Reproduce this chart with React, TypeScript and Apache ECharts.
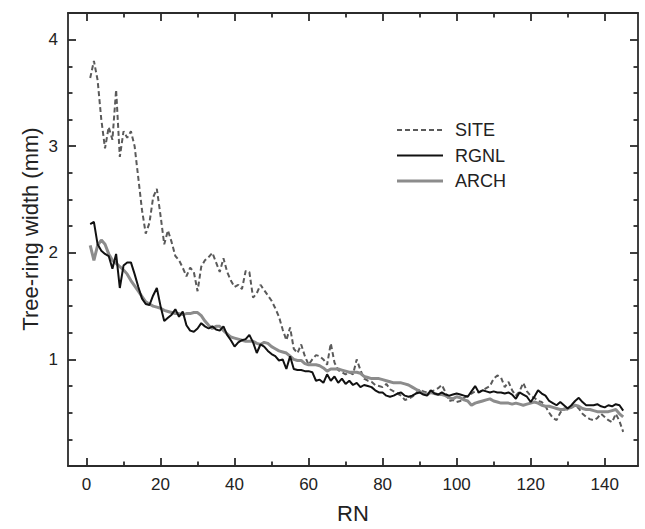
import React, { useEffect, useRef } from "react";
import * as echarts from "echarts";

const SITE = [
  3.64, 3.80, 3.62, 3.25, 2.98, 3.18, 3.06, 3.53, 2.90, 3.14,
  3.08, 3.14, 3.00, 2.70, 2.40, 2.18, 2.28, 2.52, 2.60, 2.35,
  2.08, 2.21, 2.10, 1.97, 1.93, 1.86, 1.78, 1.86, 1.82, 1.64,
  1.87, 1.93, 1.96, 2.00, 1.91, 1.82, 1.95, 1.82, 1.74, 1.68,
  1.70, 1.66, 1.83, 1.82, 1.58, 1.62, 1.70, 1.65, 1.60, 1.55,
  1.48, 1.40, 1.28, 1.18, 1.30, 1.10, 1.06, 1.14, 1.03, 0.95,
  1.00, 1.04, 1.03, 1.00, 0.95, 1.15, 0.97, 0.90, 0.88, 0.86,
  0.88, 0.86, 1.00, 0.90, 0.82, 0.80, 0.79, 0.76, 0.75, 0.74,
  0.77, 0.72, 0.70, 0.68, 0.66, 0.62, 0.63, 0.65, 0.68, 0.72,
  0.70, 0.69, 0.70, 0.71, 0.73, 0.76, 0.69, 0.61, 0.62, 0.60,
  0.61, 0.64, 0.66, 0.68, 0.70, 0.69, 0.71, 0.73, 0.75, 0.82,
  0.85, 0.83, 0.74, 0.79, 0.71, 0.66, 0.70, 0.78, 0.70, 0.66,
  0.64, 0.61, 0.60, 0.56, 0.50, 0.45, 0.43, 0.50, 0.54, 0.53,
  0.55, 0.57, 0.54, 0.49, 0.46, 0.44, 0.43, 0.45, 0.49, 0.46,
  0.43, 0.41, 0.49, 0.42, 0.32,
];

const RGNL = [
  2.27, 2.29, 2.08, 2.02, 1.99, 1.97, 1.85, 1.99, 1.67, 1.88,
  1.91, 1.91, 1.80, 1.68, 1.57, 1.52, 1.51, 1.60, 1.67, 1.50,
  1.36, 1.39, 1.42, 1.47, 1.40, 1.45, 1.32, 1.27, 1.26, 1.29,
  1.34, 1.31, 1.29, 1.31, 1.28, 1.27, 1.31, 1.23, 1.18, 1.12,
  1.16, 1.18, 1.19, 1.23, 1.16, 1.06, 1.14, 1.12, 1.08, 1.05,
  1.03, 0.99, 1.00, 0.91, 1.03, 0.91, 0.90, 0.90, 0.89, 0.89,
  0.88, 0.80, 0.81, 0.78, 0.86, 0.80, 0.84, 0.78, 0.82, 0.77,
  0.80, 0.76, 0.78, 0.74, 0.76, 0.75, 0.74, 0.71, 0.69, 0.69,
  0.66, 0.65, 0.66, 0.68, 0.69, 0.66, 0.65, 0.66, 0.68, 0.69,
  0.67, 0.66, 0.71, 0.68, 0.67, 0.69, 0.67, 0.66, 0.67, 0.68,
  0.67, 0.66, 0.65, 0.70, 0.75, 0.69, 0.71, 0.70, 0.69, 0.70,
  0.69, 0.69, 0.68, 0.69, 0.67, 0.63, 0.69, 0.67, 0.65, 0.60,
  0.65, 0.71, 0.68, 0.66, 0.61, 0.59, 0.57, 0.60, 0.57, 0.54,
  0.57, 0.61, 0.64, 0.60, 0.57, 0.57, 0.57, 0.58, 0.56, 0.55,
  0.57, 0.56, 0.58, 0.57, 0.52,
];

const ARCH = [
  2.07, 1.93, 2.07, 2.12, 2.08, 1.99, 1.93, 1.90, 1.87, 1.84,
  1.80, 1.74, 1.69, 1.64, 1.59, 1.54, 1.52, 1.50, 1.49, 1.48,
  1.46, 1.45, 1.44, 1.43, 1.43, 1.42, 1.43, 1.43, 1.44, 1.44,
  1.41, 1.36, 1.32, 1.29, 1.31, 1.31, 1.27, 1.24, 1.21, 1.20,
  1.19, 1.18, 1.17, 1.17, 1.17, 1.15, 1.14, 1.16, 1.15, 1.12,
  1.10, 1.08, 1.07, 1.06, 1.03, 1.00, 0.99, 0.99, 0.96, 0.95,
  0.95, 0.95, 0.94, 0.92, 0.89, 0.91, 0.91, 0.91, 0.90, 0.89,
  0.88, 0.88, 0.88, 0.87, 0.84, 0.83, 0.82, 0.82, 0.82, 0.81,
  0.80, 0.79, 0.78, 0.78, 0.78, 0.77, 0.76, 0.74, 0.72, 0.70,
  0.68, 0.67, 0.69, 0.68, 0.67, 0.67, 0.66, 0.64, 0.63, 0.65,
  0.64, 0.62, 0.61, 0.57, 0.59, 0.60, 0.61, 0.62, 0.63, 0.61,
  0.60, 0.59, 0.59, 0.59, 0.58, 0.59, 0.58, 0.57, 0.58, 0.59,
  0.60, 0.59, 0.57, 0.56, 0.56, 0.55, 0.54, 0.53, 0.53, 0.54,
  0.55, 0.57, 0.56, 0.54, 0.53, 0.53, 0.52, 0.51, 0.51, 0.51,
  0.51, 0.52, 0.53, 0.49, 0.46,
];

const X_MAJOR = [0, 20, 40, 60, 80, 100, 120, 140];
const X_MINOR = [10, 30, 50, 70, 90, 110, 130];
const Y_MAJOR = [1, 2, 3, 4];
const Y_MINOR = [0.25, 0.5, 0.75, 1.25, 1.5, 1.75, 2.25, 2.5, 2.75, 3.25, 3.5, 3.75];
const LEGEND_NAMES = ["SITE", "RGNL", "ARCH"];

const FONT = "Liberation Sans, Arial, sans-serif";
const FRAME = "#2b2b2b";

const STYLES: Record<string, { color: string; width: number; dash?: number[] }> = {
  SITE: { color: "#5a5a5a", width: 2, dash: [5, 3] },
  RGNL: { color: "#111111", width: 2 },
  ARCH: { color: "#8c8c8c", width: 3 },
};

function toPairs(arr: number[]) {
  return arr.map((v, i) => [i + 1, v]);
}

export default function App() {
  const ref = useRef<HTMLDivElement>(null);
  useEffect(() => {
    if (!ref.current) return;
    const chart = echarts.init(ref.current, null, { renderer: "svg" });
    const lineStyle = { color: FRAME, width: 1.8 };
    const xBase = { type: "value", min: -5, max: 149, gridIndex: 0, splitLine: { show: false } };
    const yBase = { type: "value", min: 0, max: 4.25, gridIndex: 0, splitLine: { show: false } };

    const legendGraphics: any[] = [];
    LEGEND_NAMES.forEach((name, i) => {
      const y = 130 + i * 25.5;
      const s = STYLES[name];
      legendGraphics.push({
        type: "line",
        shape: { x1: 397, y1: y, x2: 443, y2: y },
        style: { stroke: s.color, lineWidth: s.width, lineDash: s.dash || null },
      });
      legendGraphics.push({
        type: "text",
        x: 455,
        y,
        style: {
          text: name,
          fontFamily: FONT,
          fontSize: 18,
          fill: "#222",
          textAlign: "left",
          textVerticalAlign: "middle",
        },
      });
    });

    chart.setOption({
      animation: false,
      backgroundColor: "#ffffff",
      grid: { left: 68, right: 7, top: 13, bottom: 57, containLabel: false },
      xAxis: [
        {
          ...xBase,
          position: "bottom",
          axisLine: { show: true, onZero: false, lineStyle },
          axisTick: { show: true, inside: true, length: 8, customValues: X_MAJOR, lineStyle },
          axisLabel: { show: true, customValues: X_MAJOR, margin: 10, fontFamily: FONT, fontSize: 17, color: "#222" },
          name: "RN",
          nameLocation: "middle",
          nameGap: 36,
          nameTextStyle: { fontFamily: FONT, fontSize: 22, color: "#222" },
        },
        {
          ...xBase,
          position: "bottom",
          axisLine: { show: false, onZero: false },
          axisTick: { show: true, inside: true, length: 4.5, customValues: X_MINOR, lineStyle },
          axisLabel: { show: false },
        },
        {
          ...xBase,
          position: "top",
          axisLine: { show: true, onZero: false, lineStyle },
          axisTick: { show: true, inside: true, length: 8, customValues: X_MAJOR, lineStyle },
          axisLabel: { show: false },
        },
        {
          ...xBase,
          position: "top",
          axisLine: { show: false, onZero: false },
          axisTick: { show: true, inside: true, length: 4.5, customValues: X_MINOR, lineStyle },
          axisLabel: { show: false },
        },
      ],
      yAxis: [
        {
          ...yBase,
          position: "left",
          axisLine: { show: true, onZero: false, lineStyle },
          axisTick: { show: true, inside: true, length: 8, customValues: Y_MAJOR, lineStyle },
          axisLabel: { show: true, customValues: Y_MAJOR, margin: 10, fontFamily: FONT, fontSize: 17, color: "#222" },
        },
        {
          ...yBase,
          position: "left",
          axisLine: { show: false, onZero: false },
          axisTick: { show: true, inside: true, length: 4.5, customValues: Y_MINOR, lineStyle },
          axisLabel: { show: false },
        },
        {
          ...yBase,
          position: "right",
          axisLine: { show: true, onZero: false, lineStyle },
          axisTick: { show: true, inside: true, length: 8, customValues: Y_MAJOR, lineStyle },
          axisLabel: { show: false },
        },
        {
          ...yBase,
          position: "right",
          axisLine: { show: false, onZero: false },
          axisTick: { show: true, inside: true, length: 4.5, customValues: Y_MINOR, lineStyle },
          axisLabel: { show: false },
        },
      ],
      graphic: [
        {
          type: "text",
          x: 30,
          y: 229,
          rotation: Math.PI / 2,
          style: {
            text: "Tree-ring width (mm)",
            fontFamily: FONT,
            fontSize: 22,
            fill: "#222",
            textAlign: "center",
            textVerticalAlign: "middle",
          },
        },
        ...legendGraphics,
      ],
      series: [
        {
          name: "SITE",
          type: "line",
          xAxisIndex: 0,
          yAxisIndex: 0,
          symbol: "none",
          data: toPairs(SITE),
          lineStyle: { color: STYLES.SITE.color, width: STYLES.SITE.width, type: STYLES.SITE.dash },
          z: 3,
        },
        {
          name: "RGNL",
          type: "line",
          xAxisIndex: 0,
          yAxisIndex: 0,
          symbol: "none",
          data: toPairs(RGNL),
          lineStyle: { color: STYLES.RGNL.color, width: STYLES.RGNL.width },
          z: 4,
        },
        {
          name: "ARCH",
          type: "line",
          xAxisIndex: 0,
          yAxisIndex: 0,
          symbol: "none",
          data: toPairs(ARCH),
          lineStyle: { color: STYLES.ARCH.color, width: STYLES.ARCH.width },
          z: 3,
        },
      ],
    });
    return () => chart.dispose();
  }, []);
  return (
    <div
      ref={ref}
      style={{ position: "fixed", left: 0, top: 0, width: 645, height: 529, background: "#fff" }}
    />
  );
}
